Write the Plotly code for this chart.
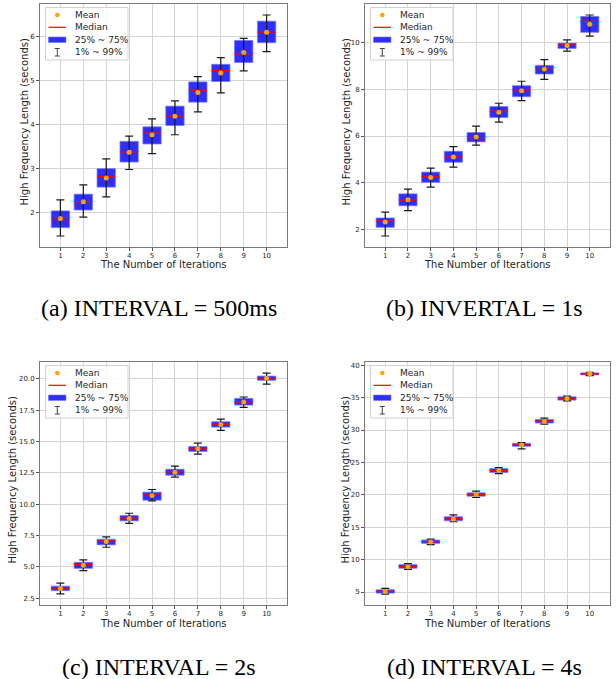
import plotly.graph_objects as go

W, H = 616, 679
iterations = list(range(1, 11))
tick_labels = [str(i) for i in iterations]

# ---- (a) INTERVAL = 500ms ----
a_q1 = [1.66, 2.06, 2.58, 3.15, 3.56, 3.98, 4.51, 4.98, 5.41, 5.86]
a_q3 = [2.04, 2.42, 3.00, 3.62, 3.95, 4.42, 4.97, 5.37, 5.91, 6.35]
a_median = [1.89, 2.25, 2.82, 3.38, 3.81, 4.20, 4.78, 5.23, 5.61, 6.10]
a_mean = [1.87, 2.25, 2.79, 3.37, 3.77, 4.19, 4.73, 5.17, 5.64, 6.10]
a_p1 = [1.47, 1.90, 2.36, 2.98, 3.34, 3.77, 4.29, 4.72, 5.22, 5.66]
a_p99 = [2.29, 2.63, 3.22, 3.74, 4.13, 4.54, 5.09, 5.52, 5.96, 6.49]

# ---- (b) INVERTAL = 1s ----
b_q1 = [2.10, 3.02, 4.02, 4.88, 5.75, 6.79, 7.68, 8.65, 9.74, 10.43]
b_q3 = [2.50, 3.53, 4.46, 5.35, 6.15, 7.26, 8.15, 9.02, 9.96, 11.11]
b_median = [2.37, 3.26, 4.26, 5.11, 5.94, 7.06, 7.97, 8.92, 9.93, 10.90]
b_mean = [2.33, 3.28, 4.23, 5.10, 5.96, 7.02, 7.93, 8.86, 9.87, 10.78]
b_p1 = [1.73, 2.81, 3.82, 4.67, 5.61, 6.59, 7.51, 8.42, 9.63, 10.27]
b_p99 = [2.75, 3.73, 4.63, 5.55, 6.42, 7.40, 8.34, 9.26, 10.11, 11.17]

# ---- (c) INTERVAL = 2s ----
c_q1 = [3.11, 4.89, 6.76, 8.67, 10.32, 12.31, 14.20, 16.14, 17.90, 19.87]
c_q3 = [3.47, 5.37, 7.21, 9.10, 10.96, 12.79, 14.60, 16.57, 18.43, 20.21]
c_median = [3.31, 5.19, 7.07, 8.91, 10.82, 12.58, 14.41, 16.36, 18.16, 20.05]
c_mean = [3.28, 5.13, 7.02, 8.86, 10.69, 12.55, 14.41, 16.36, 18.14, 20.03]
c_p1 = [2.85, 4.71, 6.57, 8.48, 10.27, 12.15, 13.99, 15.88, 17.71, 19.57]
c_p99 = [3.71, 5.56, 7.39, 9.28, 11.17, 13.03, 14.87, 16.78, 18.54, 20.45]

# ---- (d) INTERVAL = 4s ----
d_q1 = [4.84, 8.67, 12.51, 16.00, 19.79, 23.44, 27.49, 31.08, 34.62, 38.51]
d_q3 = [5.35, 9.23, 13.03, 16.62, 20.31, 24.05, 27.95, 31.64, 35.13, 38.82]
d_median = [5.10, 8.97, 12.77, 16.31, 20.00, 23.74, 27.69, 31.38, 34.92, 38.67]
d_mean = [5.10, 8.92, 12.72, 16.26, 20.05, 23.74, 27.69, 31.33, 34.87, 38.67]
d_p1 = [4.69, 8.51, 12.31, 15.85, 19.59, 23.28, 27.08, 30.92, 34.51, 38.41]
d_p99 = [5.56, 9.38, 13.18, 16.92, 20.56, 24.21, 28.05, 31.85, 35.23, 38.92]

captions = ["(a) INTERVAL = 500ms", "(b) INVERTAL = 1s", "(c) INTERVAL = 2s", "(d) INTERVAL = 4s"]
legend_labels = ["Mean", "Median", "25% ~ 75%", "1% ~ 99%"]
x_title = "The Number of Iterations"
y_title = "High Frequency Length (seconds)"

panels = [
    dict(q1=a_q1, q3=a_q3, med=a_median, mean=a_mean, p1=a_p1, p99=a_p99,
         box=(40, 287, 4, 247), yr=[1.22, 6.74], dtick=1, fmt="d"),
    dict(q1=b_q1, q3=b_q3, med=b_median, mean=b_mean, p1=b_p1, p99=b_p99,
         box=(365, 610, 4, 247), yr=[1.26, 11.64], dtick=2, fmt="d"),
    dict(q1=c_q1, q3=c_q3, med=c_median, mean=c_mean, p1=c_p1, p99=c_p99,
         box=(40, 287, 362, 605), yr=[1.97, 21.33], dtick=2.5, fmt=".1f"),
    dict(q1=d_q1, q3=d_q3, med=d_median, mean=d_mean, p1=d_p1, p99=d_p99,
         box=(365, 610, 362, 605), yr=[3.0, 40.5], dtick=5, fmt="d"),
]

BAR_W = 0.8
BLUE = "rgba(0,0,255,0.82)"
EDGE = "rgba(120,120,255,0.75)"
FONT = "DejaVu Sans"
SERIF = "Liberation Serif"
TXT = "#262626"


def px(x):
    return x / W


def py(y):
    return 1 - y / H


fig = go.Figure()
shapes = []
annotations = []

for k, p in enumerate(panels):
    n = k + 1
    xa = "x" if n == 1 else f"x{n}"
    ya = "y" if n == 1 else f"y{n}"
    L, R, T, B = p["box"]

    heights = [hi - lo for hi, lo in zip(p["q3"], p["q1"])]
    fig.add_trace(go.Bar(x=iterations, y=heights, base=p["q1"], width=BAR_W,
                         marker=dict(color=BLUE, line=dict(color=EDGE, width=1)),
                         xaxis=xa, yaxis=ya, showlegend=False, hoverinfo="skip"))
    fig.add_trace(go.Scatter(
        x=iterations, y=p["mean"], mode="markers",
        marker=dict(size=2, color="rgba(0,0,0,0)"),
        error_y=dict(type="data", symmetric=False,
                     array=[hi - m for hi, m in zip(p["p99"], p["mean"])],
                     arrayminus=[m - lo for m, lo in zip(p["mean"], p["p1"])],
                     color="#1a1a1a", thickness=1.2, width=4),
        xaxis=xa, yaxis=ya, showlegend=False, hoverinfo="skip"))
    mx, my = [], []
    for xi, m in zip(iterations, p["med"]):
        mx += [xi - BAR_W / 2, xi + BAR_W / 2, None]
        my += [m, m, None]
    fig.add_trace(go.Scatter(x=mx, y=my, mode="lines", line=dict(color="red", width=1.3),
                             xaxis=xa, yaxis=ya, showlegend=False, hoverinfo="skip"))
    fig.add_trace(go.Scatter(x=iterations, y=p["mean"], mode="markers",
                             marker=dict(color="orange", size=5),
                             xaxis=xa, yaxis=ya, showlegend=False, hoverinfo="skip"))

    axis_common = dict(showgrid=True, gridcolor="#d4d4d4", gridwidth=1,
                       showline=True, linecolor="#7a7a7a", linewidth=1, mirror=True,
                       ticks="outside", ticklen=3, tickcolor="#555", tickwidth=0.8,
                       tickfont=dict(family=FONT, size=7, color=TXT), zeroline=False)
    fig.update_layout(**{
        ("xaxis" if n == 1 else f"xaxis{n}"): dict(
            domain=[px(L), px(R)], anchor=ya, range=[0.11, 10.89],
            tickmode="array", tickvals=iterations, ticktext=tick_labels,
            ticklabelstandoff=-1, **axis_common),
        ("yaxis" if n == 1 else f"yaxis{n}"): dict(
            domain=[py(B), py(T)], anchor=xa, range=p["yr"], dtick=p["dtick"],
            tickformat=p["fmt"], **axis_common),
    })

    # axis titles
    annotations.append(dict(x=px((L + R) / 2), y=py(B + 18), xref="paper", yref="paper",
                            text=x_title, showarrow=False, xanchor="center", yanchor="middle",
                            font=dict(family=FONT, size=10, color=TXT)))
    title_x = {0: 24, 1: 346, 2: 12, 3: 345}[k]
    annotations.append(dict(x=px(title_x), y=py((T + B) / 2 - 3), xref="paper", yref="paper",
                            text=y_title, showarrow=False, textangle=-90,
                            xanchor="center", yanchor="middle",
                            font=dict(family=FONT, size=10, color=TXT)))
    # caption
    cap_pos = [(159, 308), (484, 308), (159, 667), (484, 667)][k]
    annotations.append(dict(x=px(cap_pos[0]), y=py(cap_pos[1]), xref="paper", yref="paper",
                            text=captions[k], showarrow=False, xanchor="center", yanchor="middle",
                            font=dict(family=SERIF, size=24, color="black")))

    # legend box (drawn inside the plot, upper left)
    shapes.append(dict(type="rect", xref="paper", yref="paper",
                       x0=px(L + 5.5), x1=px(L + 88), y0=py(T + 56), y1=py(T + 3.5),
                       line=dict(color="#d0d0d0", width=1), fillcolor="rgba(255,255,255,0.85)",
                       layer="above"))
    shapes.append(dict(type="circle", xref="paper", yref="paper",
                       x0=px(L + 15), x1=px(L + 19.6), y0=py(T + 13.3), y1=py(T + 8.7),
                       line=dict(width=0), fillcolor="orange", layer="above"))
    shapes.append(dict(type="line", xref="paper", yref="paper",
                       x0=px(L + 8.5), x1=px(L + 26), y0=py(T + 23.3), y1=py(T + 23.3),
                       line=dict(color="red", width=1.2), layer="above"))
    shapes.append(dict(type="rect", xref="paper", yref="paper",
                       x0=px(L + 8.5), x1=px(L + 26), y0=py(T + 38.5), y1=py(T + 33),
                       line=dict(color=EDGE, width=0.8), fillcolor=BLUE, layer="above"))
    shapes.append(dict(type="line", xref="paper", yref="paper",
                       x0=px(L + 17.3), x1=px(L + 17.3), y0=py(T + 52), y1=py(T + 44.5),
                       line=dict(color="#444", width=1), layer="above"))
    for cy in (44.5, 52):
        shapes.append(dict(type="line", xref="paper", yref="paper",
                           x0=px(L + 14.8), x1=px(L + 19.8), y0=py(T + cy), y1=py(T + cy),
                           line=dict(color="#444", width=1), layer="above"))
    for lbl, cy in zip(legend_labels, (11, 23.3, 35.8, 48.2)):
        annotations.append(dict(x=px(L + 33), y=py(T + cy), xref="paper", yref="paper",
                                text=lbl, showarrow=False, xanchor="left", yanchor="middle",
                                font=dict(family=FONT, size=9, color=TXT)))

fig.update_layout(width=W, height=H, margin=dict(l=0, r=0, t=0, b=0),
                  paper_bgcolor="white", plot_bgcolor="white", barmode="overlay",
                  showlegend=False, shapes=shapes, annotations=annotations)

fig.write_html("out.html", config={"displayModeBar": False},
               post_script="document.body.style.margin='0';document.body.style.overflow='hidden';")
